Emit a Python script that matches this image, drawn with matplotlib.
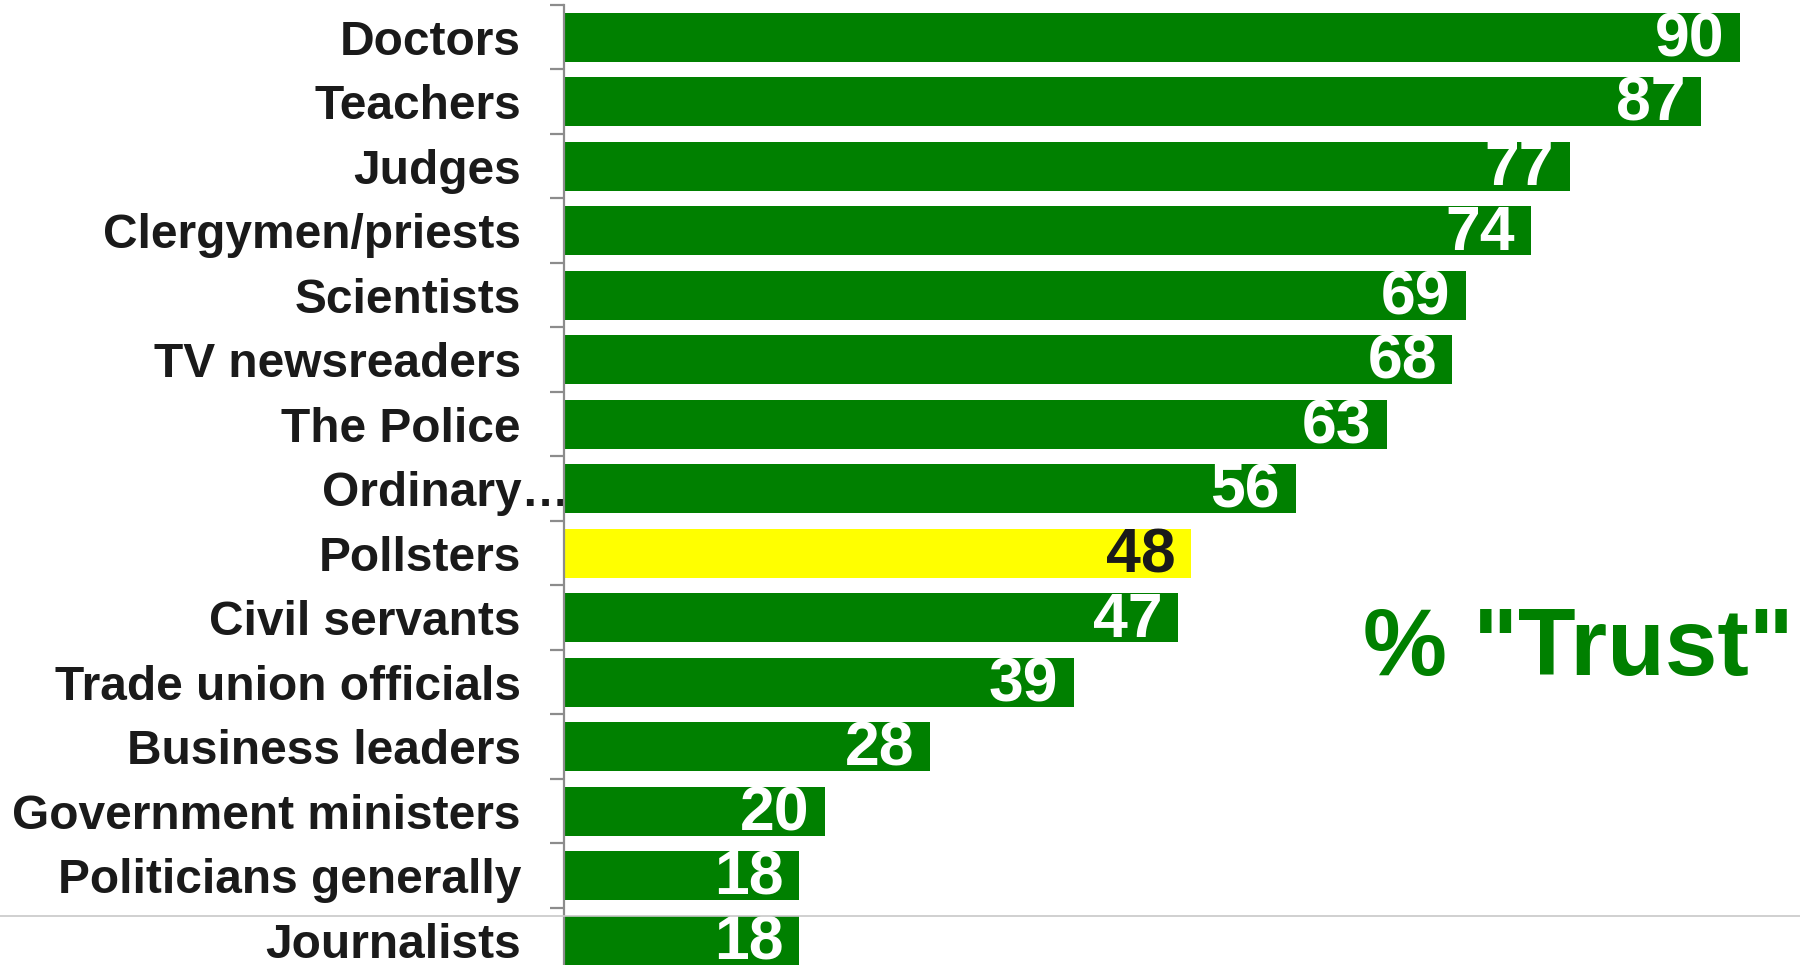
import matplotlib.pyplot as plt
import matplotlib.transforms as mtransforms
from matplotlib.lines import Line2D

plt.rcParams['font.family'] = ['Liberation Sans', 'DejaVu Sans']

professions = ["Doctors", "Teachers", "Judges", "Clergymen/priests", "Scientists",
               "TV newsreaders", "The Police", "Ordinary…", "Pollsters", "Civil servants",
               "Trade union officials", "Business leaders", "Government ministers",
               "Politicians generally", "Journalists"]
trust = [90, 87, 77, 74, 69, 68, 63, 56, 48, 47, 39, 28, 20, 18, 18]
highlight = "Pollsters"

green = "#008000"
yellow = "#ffff00"

fig = plt.figure(figsize=(18, 9.65), dpi=100)
ax = fig.add_axes([0.3133, -0.00777, 0.6867, 1.00259])

ypos = list(range(len(professions)))
colors = [yellow if p == highlight else green for p in professions]
ax.barh(ypos, trust, height=0.76, color=colors, edgecolor="none")

ax.set_xlim(0, 94.6)
ax.set_ylim(len(professions) - 0.5, -0.5)

for sp in ["top", "right", "bottom"]:
    ax.spines[sp].set_visible(False)
ax.spines["left"].set_color("#8c8c8c")
ax.spines["left"].set_linewidth(1.6)
ax.set_xticks([])

# tick marks sit between categories, labels at the centres
ax.set_yticks([y - 0.5 for y in ypos], minor=True)
ax.tick_params(axis="y", which="minor", length=10, width=1.6, color="#8c8c8c")
ax.set_yticks(ypos)
ax.set_yticklabels(professions, fontsize=34.5, fontweight="bold", color="#1a1a1a")
ax.tick_params(axis="y", which="major", length=0, pad=31)

for lbl in ax.get_yticklabels():
    if lbl.get_text() == "Ordinary…":
        lbl.set_transform(lbl.get_transform() +
                          mtransforms.ScaledTranslation(0.486, 0, fig.dpi_scale_trans))

for y, v, p in zip(ypos, trust, professions):
    ax.text(v - 1.2, y + 0.04, str(v), ha="right", va="center", fontsize=45,
            fontweight="bold", color="#1a1a1a" if p == highlight else "white")

fig.text(0.7572, 0.326, '% "Trust"', fontsize=68, fontweight="bold", color=green,
         ha="left", va="center")

fig.add_artist(Line2D([0, 1], [1 - 916 / 965, 1 - 916 / 965], transform=fig.transFigure,
                      color="#c8c8c8", linewidth=1.2))

fig.savefig("out.png", dpi=100)
